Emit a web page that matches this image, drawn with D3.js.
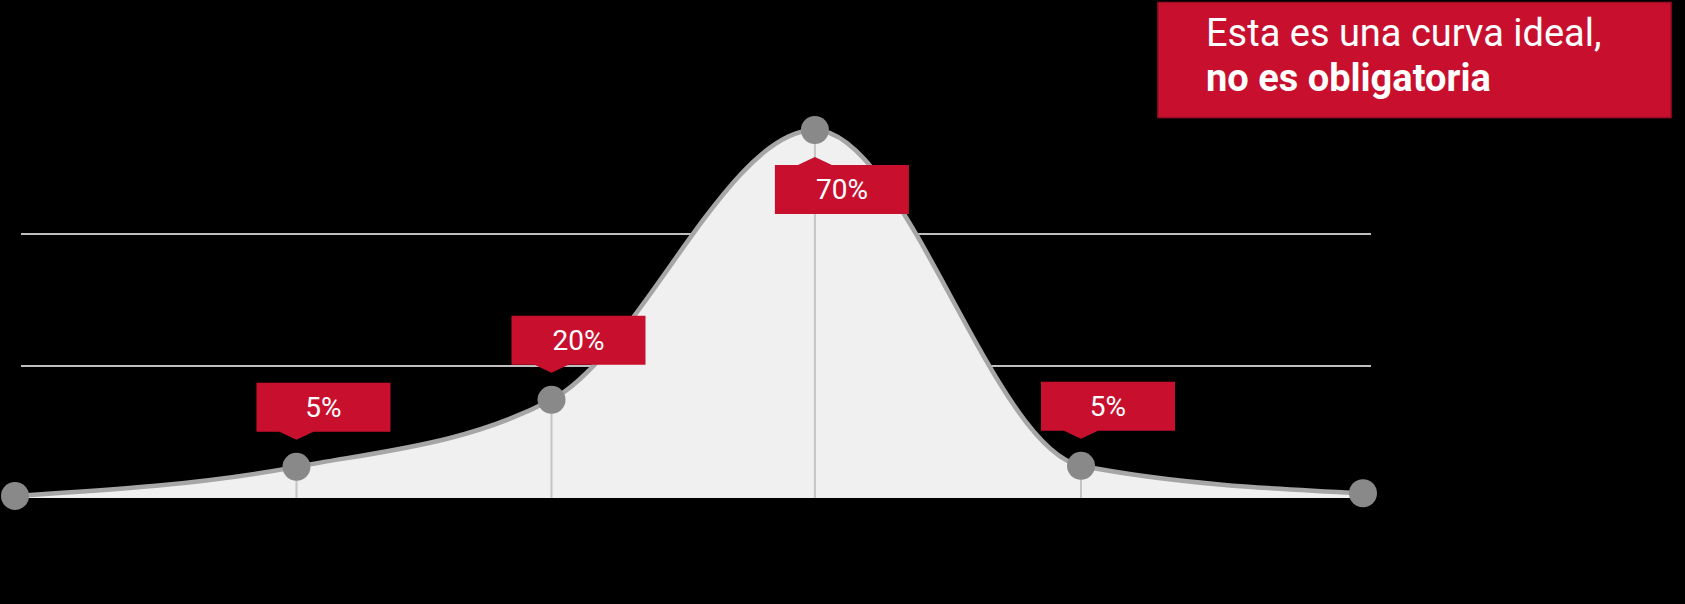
<!DOCTYPE html>
<html>
<head>
<meta charset="utf-8">
<script src="https://cdn.jsdelivr.net/npm/d3@7"></script>
<style>
  html, body { margin: 0; padding: 0; background: #000; }
  svg { display: block; }
</style>
</head>
<body>
<svg id="chart" width="1685" height="604"></svg>
<script>
// ---- data ----
const xValues = [0, 1.044, 1.99, 2.967, 3.954, 5];
const yValues = [0.4, 5.9, 18.6, 69.7, 6.1, 0.9];
const labels = ["", "5%", "20%", "70%", "5%", ""];
const labelSide = ["", "above", "above", "below", "above", ""];
const gridTicks = [25, 50];
const calloutLines = ["Esta es una curva ideal,", "no es obligatoria"];

// ---- layout ----
const W = 1685, H = 604;
const RED = "#c8102e";
const svg = d3.select("#chart");

const x = d3.scaleLinear().domain([0, 5]).range([15, 1363]);
const y = d3.scaleLinear().domain([0, 50]).range([498, 234]);

const pts = xValues.map((xv, i) => ({ x: xv, y: yValues[i], label: labels[i], side: labelSide[i] }));

// gridlines
svg.append("g").selectAll("line").data(gridTicks).join("line")
  .attr("x1", 21).attr("x2", 1371)
  .attr("y1", d => y(d)).attr("y2", d => y(d))
  .attr("stroke", "#ffffff").attr("stroke-width", 1.5);

// area
const area = d3.area().curve(d3.curveMonotoneX)
  .x(d => x(d.x)).y0(y(0)).y1(d => y(d.y));
svg.append("path").datum(pts).attr("d", area).attr("fill", "#f0f0f0");

// drop lines
svg.append("g").selectAll("line").data(pts.filter(d => d.label)).join("line")
  .attr("x1", d => x(d.x)).attr("x2", d => x(d.x))
  .attr("y1", d => y(d.y)).attr("y2", y(0))
  .attr("stroke", "#c4c4c4").attr("stroke-width", 2);

// curve
const line = d3.line().curve(d3.curveMonotoneX).x(d => x(d.x)).y(d => y(d.y));
svg.append("path").datum(pts).attr("d", line)
  .attr("fill", "none").attr("stroke", "#a6a6a6").attr("stroke-width", 4.5);

// points
svg.append("g").selectAll("circle").data(pts).join("circle")
  .attr("cx", d => x(d.x)).attr("cy", d => y(d.y)).attr("r", 14)
  .attr("fill", "#898989");

// labels
const boxW = 134, boxH = 49, tipGap = 27, tipH = 8, tipHalf = 17, leftOff = 40;
const lg = svg.append("g").selectAll("g").data(pts.filter(d => d.label)).join("g");
lg.append("path").attr("fill", RED).attr("d", d => {
  const px = x(d.x), py = y(d.y);
  const bl = px - leftOff, br = bl + boxW;
  if (d.side === "above") {
    const tip = py - tipGap, bb = tip - tipH, bt = bb - boxH;
    return `M${bl},${bt}H${br}V${bb}H${px + tipHalf}L${px},${tip}L${px - tipHalf},${bb}H${bl}Z`;
  } else {
    const tip = py + tipGap, bt = tip + tipH, bb = bt + boxH;
    return `M${bl},${bt}H${px - tipHalf}L${px},${tip}L${px + tipHalf},${bt}H${br}V${bb}H${bl}Z`;
  }
});
lg.append("text")
  .attr("x", d => x(d.x) - leftOff + boxW / 2)
  .attr("y", d => {
    const py = y(d.y);
    const mid = d.side === "above" ? py - tipGap - tipH - boxH / 2 : py + tipGap + tipH + boxH / 2;
    return mid + 10;
  })
  .attr("text-anchor", "middle")
  .attr("font-family", "Roboto, sans-serif")
  .attr("font-size", 28)
  .attr("fill", "#ffffff")
  .text(d => d.label);

// callout
svg.append("rect").attr("x", 1158).attr("y", 2.5).attr("width", 513).attr("height", 115)
  .attr("fill", RED).attr("stroke", "#9e0c25").attr("stroke-width", 1.5);
svg.append("g").selectAll("text").data(calloutLines).join("text")
  .attr("x", 1206).attr("y", (d, i) => 45.7 + i * 45)
  .attr("font-family", "Roboto, sans-serif")
  .attr("font-size", 38)
  .attr("font-weight", (d, i) => i === 1 ? 700 : 400)
  .attr("fill", "#ffffff")
  .text(d => d);
</script>
</body>
</html>
